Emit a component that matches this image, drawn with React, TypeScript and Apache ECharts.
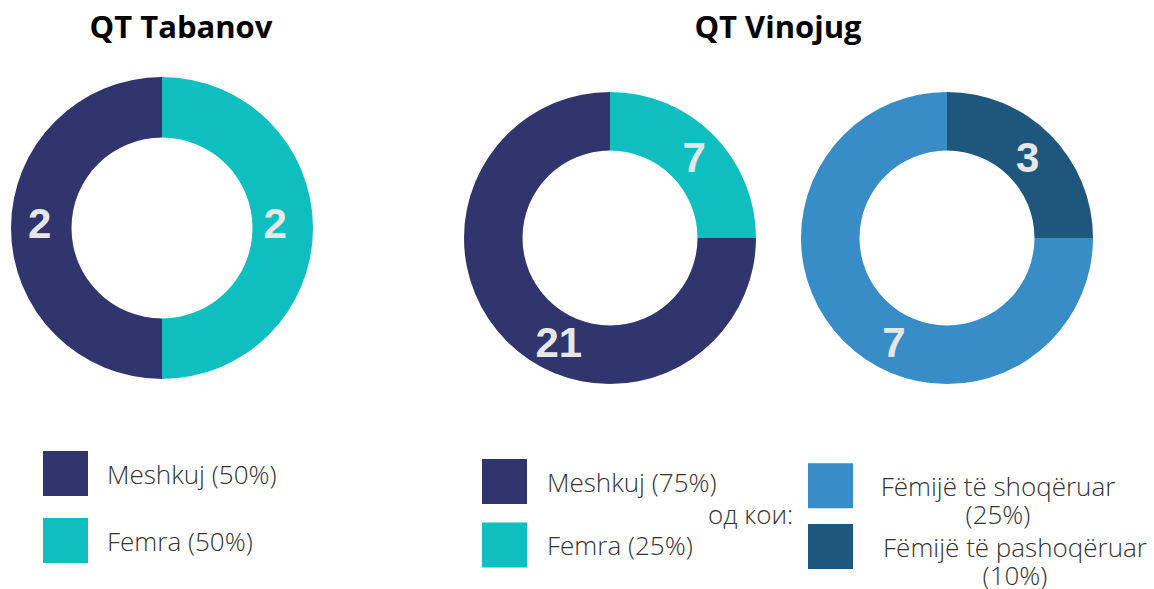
import React, { useEffect, useRef } from "react";
import * as echarts from "echarts";

const titles = ["QT Tabanov", "QT Vinojug"];

const tabanovNames = ["Meshkuj (50%)", "Femra (50%)"];
const tabanovCounts = [2, 2];

const vinojugNames = ["Meshkuj (75%)", "Femra (25%)"];
const vinojugCounts = [21, 7];

const childNames = ["Fëmijë të shoqëruar", "Fëmijë të pashoqëruar"];
const childPercents = ["(25%)", "(10%)"];
const childCounts = [7, 3];
const childShares = [75, 25];

const genderColors = ["#31356D", "#0FBFBF"];
const childColors = ["#398DC6", "#1F567B"];

const linkText = "од кои:";

const labelOffsets1 = [[1.5, -5], [-10.5, -5]];
const labelOffsets2 = [[33.5, 20], [-0.5, 4.5]];
const labelOffsets3 = [[31.5, 19.5], [-4, 4.5]];

const labelStyle = {
  show: true,
  position: "inside",
  color: "#E6E6E6",
  fontFamily: "Liberation Sans, Arial, sans-serif",
  fontWeight: "bold",
  fontSize: 42,
};

function pieData(names: string[], values: number[], labels: number[], colors: string[], offsets: number[][]) {
  return names.map((n, i) => ({
    name: n,
    value: values[i],
    itemStyle: { color: colors[i] },
    label: { ...labelStyle, formatter: String(labels[i]), offset: offsets[i] },
  }));
}

const legendText = {
  fontFamily: "Open Sans",
  fontWeight: 300,
  fontSize: 26,
  color: "#333333",
};

function childLegend(i: number, top: number, width: number) {
  const a = { ...legendText, width, align: "center", lineHeight: 28 };
  return {
    data: [childNames[i]],
    orient: "vertical",
    left: 808,
    top,
    padding: 0,
    itemWidth: 45,
    itemHeight: 45,
    icon: "rect",
    selectedMode: false,
    formatter: (name: string) => `{a|${name}}\n{a|${childPercents[i]}}`,
    textStyle: {
      ...legendText,
      padding: [28, 0, 0, 20],
      rich: { a },
    },
  };
}

export default function App() {
  const ref = useRef<HTMLDivElement>(null);
  useEffect(() => {
    if (!ref.current) return;
    const chart = echarts.init(ref.current, null, { renderer: "svg" });
    const pieCommon = {
      type: "pie",
      startAngle: 90,
      clockwise: false,
      silent: true,
      labelLine: { show: false },
      emphasis: { disabled: true },
    };
    const titleStyle = { fontFamily: "Open Sans", fontWeight: "bold", fontSize: 31, color: "#000" };
    chart.setOption({
      animation: false,
      backgroundColor: "#ffffff",
      title: [
        { text: titles[0], left: 176, top: 5, textAlign: "center", textStyle: titleStyle },
        { text: titles[1], left: 773, top: 5, textAlign: "center", textStyle: titleStyle },
      ],
      legend: [
        {
          data: tabanovNames,
          orient: "vertical",
          left: 43,
          top: 451,
          padding: 0,
          itemWidth: 45,
          itemHeight: 45,
          itemGap: 22,
          icon: "rect",
          selectedMode: false,
          textStyle: { ...legendText, padding: [0, 0, 0, 14] },
        },
        {
          data: vinojugNames,
          orient: "vertical",
          left: 482,
          top: 459,
          padding: 0,
          itemWidth: 45,
          itemHeight: 45,
          itemGap: 18.5,
          icon: "rect",
          selectedMode: false,
          textStyle: { ...legendText, padding: [0, 0, 0, 15] },
        },
        childLegend(0, 463.3, 240),
        childLegend(1, 524, 274),
      ],
      graphic: [
        {
          type: "text",
          left: 708,
          top: 501,
          style: {
            text: linkText,
            fill: "#333333",
            font: "300 26px 'Open Sans'",
          },
        },
      ],
      series: [
        {
          ...pieCommon,
          center: [162, 228],
          radius: [90.5, 151],
          data: pieData(tabanovNames, tabanovCounts, tabanovCounts, genderColors, labelOffsets1),
        },
        {
          ...pieCommon,
          center: [610, 238],
          radius: [87.5, 146],
          data: pieData(vinojugNames, vinojugCounts, vinojugCounts, genderColors, labelOffsets2),
        },
        {
          ...pieCommon,
          center: [947, 238],
          radius: [87.5, 146],
          data: pieData(childNames, childShares, childCounts, childColors, labelOffsets3),
        },
      ],
    });
    return () => chart.dispose();
  }, []);
  return (
    <div
      ref={ref}
      style={{ position: "absolute", left: 0, top: 0, width: 1154, height: 589 }}
    />
  );
}
